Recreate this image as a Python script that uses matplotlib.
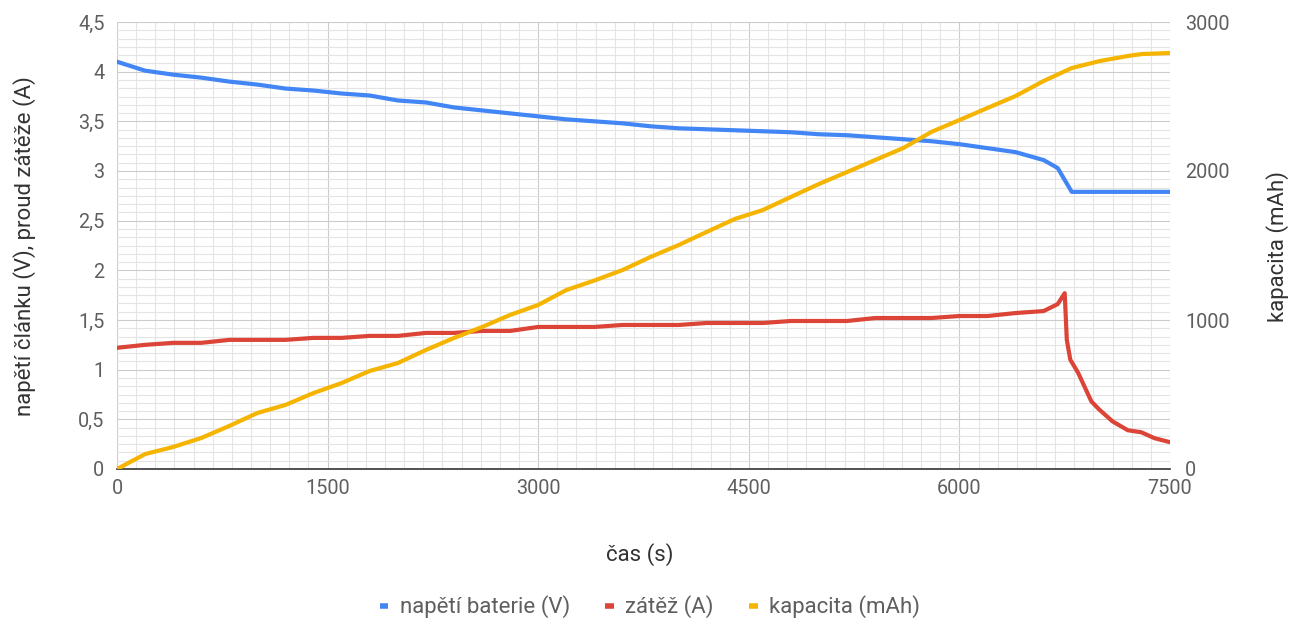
import matplotlib
matplotlib.use("Agg")
import matplotlib.pyplot as plt
from matplotlib.ticker import MultipleLocator, FuncFormatter

plt.rcParams['font.family'] = ['Roboto', 'DejaVu Sans']

# time axis (s)
t_main = [0, 200, 400, 600, 800, 1000, 1200, 1400, 1600, 1800, 2000, 2200, 2400,
          2600, 2800, 3000, 3200, 3400, 3600, 3800, 4000, 4200, 4400, 4600, 4800,
          5000, 5200, 5400, 5600, 5800, 6000, 6200, 6400, 6600]

# battery voltage (V)
volt_t = t_main + [6700, 6800, 7000, 7200, 7500]
volt = [4.10, 4.01, 3.97, 3.94, 3.90, 3.87, 3.83, 3.81, 3.78, 3.76, 3.71, 3.69, 3.64,
        3.61, 3.58, 3.55, 3.52, 3.50, 3.48, 3.45, 3.43, 3.42, 3.41, 3.40, 3.39,
        3.37, 3.36, 3.34, 3.32, 3.30, 3.27, 3.23, 3.19, 3.11,
        3.03, 2.79, 2.79, 2.79, 2.79]

# load current (A)
load_t = t_main + [6700, 6750, 6765, 6790, 6845, 6940, 6995, 7090, 7200, 7295, 7390, 7500]
load = [1.22, 1.25, 1.27, 1.27, 1.30, 1.30, 1.30, 1.32, 1.32, 1.34, 1.34, 1.37, 1.37,
        1.39, 1.39, 1.43, 1.43, 1.43, 1.45, 1.45, 1.45, 1.47, 1.47, 1.47, 1.49,
        1.49, 1.49, 1.52, 1.52, 1.52, 1.54, 1.54, 1.57, 1.59,
        1.66, 1.77, 1.30, 1.10, 0.97, 0.68, 0.60, 0.48, 0.39, 0.37, 0.31, 0.27]

# capacity (mAh)
cap_t = t_main + [6800, 7000, 7200, 7300, 7500]
cap = [0, 100, 148, 208, 289, 376, 430, 510, 577, 658, 711, 799, 879,
       953, 1034, 1101, 1201, 1265, 1335, 1423, 1503, 1591, 1678, 1738, 1826,
       1913, 1993, 2074, 2154, 2262, 2342, 2423, 2503, 2604,
       2691, 2738, 2772, 2785, 2792]

blue = '#4285F4'
red = '#DB4437'
yellow = '#F4B400'
txt = '#5f5f5f'
W, H = 1294, 620

fig = plt.figure(figsize=(W / 100, H / 100), dpi=100)
ax = fig.add_axes([117 / W, 1 - 469 / H, (1170 - 117) / W, (469 - 22) / H])
ax2 = ax.twinx()

l1, = ax.plot(volt_t, volt, color=blue, lw=3, label='napětí baterie (V)', solid_joinstyle='round')
l2, = ax.plot(load_t, load, color=red, lw=3, label='zátěž (A)', solid_joinstyle='round')
l3, = ax2.plot(cap_t, cap, color=yellow, lw=3, label='kapacita (mAh)', solid_joinstyle='round')

ax.set_xlim(0, 7500)
ax.set_ylim(0, 4.5)
ax2.set_ylim(0, 3000)

ax.xaxis.set_major_locator(MultipleLocator(1500))
ax.xaxis.set_minor_locator(MultipleLocator(1500 / 11))
ax.yaxis.set_major_locator(MultipleLocator(0.5))
ax.yaxis.set_minor_locator(MultipleLocator(0.5 / 6))
ax2.yaxis.set_major_locator(MultipleLocator(1000))

ax.yaxis.set_major_formatter(FuncFormatter(lambda v, p: ('%g' % v).replace('.', ',')))

ax.grid(which='major', color='#cccccc', lw=0.8)
ax.grid(which='minor', color='#e4e4e4', lw=0.8)
ax.set_axisbelow(True)

for a in (ax, ax2):
    for s in ('top', 'right', 'left'):
        a.spines[s].set_visible(False)
    a.spines['bottom'].set_color('#333333')
    a.spines['bottom'].set_linewidth(1.2)
    a.tick_params(which='both', length=0, colors=txt, labelsize=14.3)
ax2.spines['bottom'].set_visible(False)
ax.tick_params(axis='y', pad=9)
ax.tick_params(axis='x', pad=7)
ax2.tick_params(axis='y', pad=11)

fig.text(640 / W, 1 - 555 / H, 'čas (s)', fontsize=16, color='#333333', ha='center', va='center')
fig.text(25 / W, 1 - 246 / H, 'napětí článku (V), proud zátěže (A)', fontsize=16,
         color='#333333', ha='center', va='center', rotation=90)
fig.text(1278 / W, 1 - 246 / H, 'kapacita (mAh)', fontsize=16,
         color='#333333', ha='center', va='center', rotation=90)

leg = fig.legend(handles=[l1, l2, l3], loc='center', bbox_to_anchor=(650 / W, 1 - 607 / H), ncol=3,
                 frameon=False, fontsize=16, handlelength=0.4, handletextpad=0.5,
                 columnspacing=1.6, labelcolor=txt)
for h in leg.get_lines():
    h.set_linewidth(4)
    h.set_solid_capstyle('butt')

fig.savefig('out.png', dpi=100)
